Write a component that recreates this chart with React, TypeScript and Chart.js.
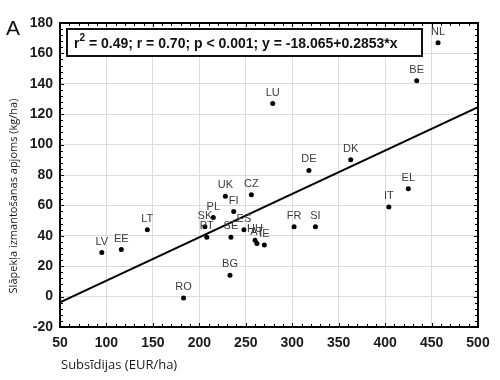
import React, { useEffect, useRef } from "react";
import { Chart, registerables } from "chart.js";

Chart.register(...registerables);

const countries = ["NL","BE","LU","DK","DE","EL","IT","FR","SI","CZ","UK","FI","PL","SK","PT","SE","ES","HU","AT","IE","BG","RO","LT","EE","LV"];
const subsidies = [457,434,279,363,318,425,404,302,325,256,228,237,215,206,208,234,248,260,262,270,233,183,144,116,95];
const nitrogen = [167,142,127,90,83,71,59,46,46,67,66,56,52,46,39,39,44,37,35,34,14,-1,44,31,29];

const fitX = [50, 500];
const fitY = [-3.8, 124.6];

const xTicks = [50,100,150,200,250,300,350,400,450,500];
const yTicks = [-20,0,20,40,60,80,100,120,140,160,180];

const panelLabel = "A";
const statsText = ["r", "2", " = 0.49; r = 0.70; p < 0.001; y = -18.065+0.2853*x"];
const xTitle = "Subsīdijas (EUR/ha)";
const yTitle = "Slāpekļa izmantošanas apjoms (kg/ha)";

const overlay = {
  id: "overlay",
  afterDraw(chart: any) {
    const ctx = chart.ctx;
    const a = chart.chartArea;
    const xs = chart.scales.x;
    const ys = chart.scales.y;
    ctx.save();
    // minor ticks
    ctx.strokeStyle = "#000";
    ctx.lineWidth = 1;
    ctx.beginPath();
    for (let v = xTicks[0]; v <= xTicks[xTicks.length - 1]; v += 10) {
      const px = Math.round(xs.getPixelForValue(v)) + 0.5;
      const len = v % 50 === 0 ? 4 : 3;
      ctx.moveTo(px, a.bottom); ctx.lineTo(px, a.bottom - len);
      ctx.moveTo(px, a.top); ctx.lineTo(px, a.top + len);
    }
    for (let v = yTicks[0]; v <= yTicks[yTicks.length - 1]; v += 4) {
      const py = Math.round(ys.getPixelForValue(v)) + 0.5;
      const len = v % 20 === 0 ? 4 : 3;
      ctx.moveTo(a.left, py); ctx.lineTo(a.left + len, py);
      ctx.moveTo(a.right, py); ctx.lineTo(a.right - len, py);
    }
    ctx.stroke();
    // frame
    ctx.lineWidth = 2;
    ctx.strokeRect(a.left, a.top, a.right - a.left, a.bottom - a.top);

    // country labels
    ctx.fillStyle = "#3a3a3a";
    ctx.font = "11px 'Liberation Sans', Arial, sans-serif";
    ctx.textAlign = "center";
    ctx.textBaseline = "middle";
    countries.forEach((c, i) => {
      const px = xs.getPixelForValue(subsidies[i]);
      const py = ys.getPixelForValue(nitrogen[i]);
      ctx.fillText(c, px, py - 11);
    });

    // stats box
    const bx = 67, by = 29, bw = 355, bh = 27;
    ctx.fillStyle = "#fff";
    ctx.fillRect(bx, by, bw, bh);
    ctx.lineWidth = 2;
    ctx.strokeStyle = "#111";
    ctx.strokeRect(bx, by, bw, bh);
    ctx.fillStyle = "#111";
    ctx.textAlign = "left";
    ctx.textBaseline = "alphabetic";
    let tx = 74;
    const base = 48;
    ctx.font = "bold 14px 'Liberation Sans', Arial, sans-serif";
    ctx.fillText(statsText[0], tx, base);
    tx += ctx.measureText(statsText[0]).width;
    ctx.font = "bold 10px 'Liberation Sans', Arial, sans-serif";
    ctx.fillText(statsText[1], tx, base - 7);
    tx += ctx.measureText(statsText[1]).width;
    ctx.font = "bold 14px 'Liberation Sans', Arial, sans-serif";
    ctx.fillText(statsText[2], tx, base);

    // panel label
    ctx.font = "21px 'Liberation Sans', Arial, sans-serif";
    ctx.fillText(panelLabel, 6, 35);

    // axis titles
    ctx.fillStyle = "#1a1a1a";
    ctx.font = "13px 'Open Sans', sans-serif";
    ctx.textBaseline = "middle";
    ctx.fillText(xTitle, 61, 365);
    ctx.translate(14, 196);
    ctx.rotate(-Math.PI / 2);
    ctx.textAlign = "center";
    ctx.font = "11px 'Open Sans', sans-serif";
    ctx.fillText(yTitle, 0, 0);
    ctx.restore();
  },
};

export default function App() {
  const ref = useRef<HTMLCanvasElement>(null);
  useEffect(() => {
    if (!ref.current) return;
    const tickFont = { family: "'Liberation Sans', Arial, sans-serif", size: 14, weight: "bold" as const };
    const chart = new Chart(ref.current, {
      type: "scatter",
      data: {
        datasets: [
          {
            type: "line",
            data: fitX.map((x, i) => ({ x, y: fitY[i] })),
            borderColor: "#000",
            borderWidth: 2,
            pointRadius: 0,
            fill: false,
          } as any,
          {
            data: subsidies.map((x, i) => ({ x, y: nitrogen[i] })),
            backgroundColor: "#000",
            borderColor: "#000",
            pointRadius: 2.5,
            pointBorderWidth: 0,
          },
        ],
      },
      options: {
        responsive: false,
        animation: false,
        layout: { padding: { left: 0, right: 22, top: 23, bottom: 0 } },
        plugins: { legend: { display: false }, tooltip: { enabled: false } },
        scales: {
          x: {
            type: "linear",
            min: 50,
            max: 500,
            afterBuildTicks: (s: any) => { s.ticks = xTicks.map((v) => ({ value: v })); },
            afterFit: (s: any) => { s.height = 53; },
            grid: { color: "#dcdcdc", drawTicks: false, lineWidth: 1 },
            border: { display: false },
            ticks: { padding: 8, color: "#1a1a1a", font: tickFont },
          },
          y: {
            type: "linear",
            min: -20,
            max: 180,
            afterBuildTicks: (s: any) => { s.ticks = yTicks.map((v) => ({ value: v })); },
            afterFit: (s: any) => { s.width = 60; },
            grid: { color: "#dcdcdc", drawTicks: false, lineWidth: 1 },
            border: { display: false },
            ticks: { padding: 7, color: "#1a1a1a", font: tickFont },
          },
        },
      },
      plugins: [overlay],
    });
    return () => chart.destroy();
  }, []);
  return (
    <div style={{ position: "fixed", left: 0, top: 0, width: 500, height: 380, background: "#fff" }}>
      <canvas ref={ref} width={500} height={380} style={{ width: 500, height: 380 }} />
    </div>
  );
}
